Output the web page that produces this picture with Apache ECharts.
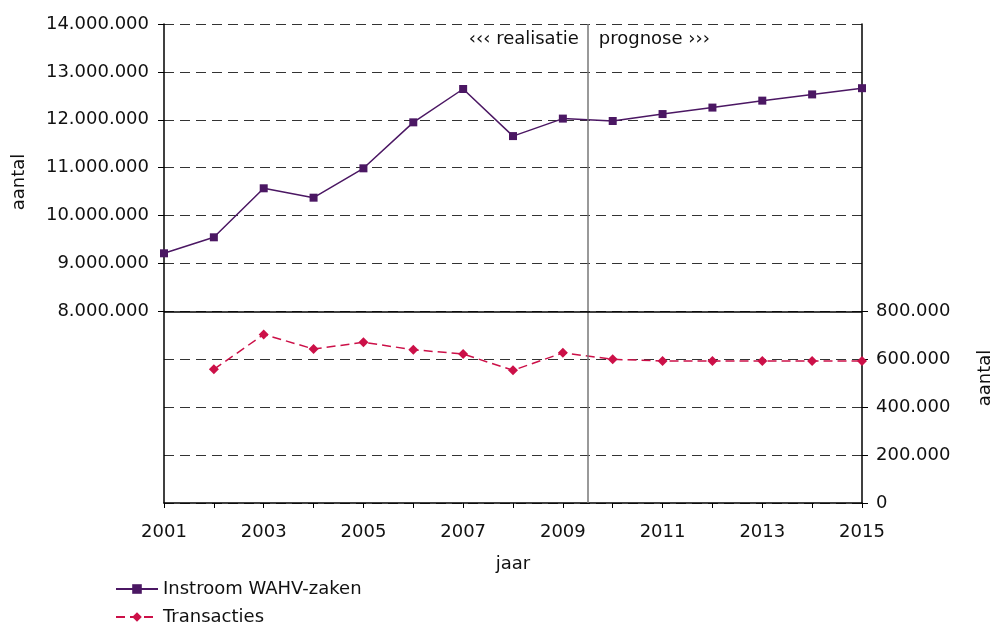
<!DOCTYPE html>
<html>
<head>
<meta charset="utf-8">
<script src="https://cdn.jsdelivr.net/npm/echarts@6/dist/echarts.min.js"></script>
<style>html,body{margin:0;padding:0;background:#fff}#c{width:993px;height:623px}</style>
</head>
<body>
<div id="c"></div>
<script>
const years = [2001,2002,2003,2004,2005,2006,2007,2008,2009,2010,2011,2012,2013,2014,2015];
const instroom = [9213000,9547000,10570000,10374000,10987000,11947000,12643000,11660000,12025000,11975000,12120000,12255000,12400000,12530000,12660000];
const transacties = [null,558000,704000,643000,671000,640000,622000,554000,627000,600000,593000,593000,593000,593000,593000];
const leftTicks = [8000000,9000000,10000000,11000000,12000000,13000000,14000000];
const rightTicks = [0,200000,400000,600000,800000];
const xLabels = [2001,2003,2005,2007,2009,2011,2013,2015];
const splitYear = 2009.5;
const panelDivider = 8000000;

const FONT = "'DejaVu Sans', Verdana, sans-serif";
const FS = 18;
const fmt = v => String(Math.round(v)).replace(/\B(?=(\d{3})+(?!\d))/g, '.');
const C1 = '#4b1763', C2 = '#cc1048';
const legendText = {fontFamily:FONT,fontSize:FS,color:'#111',lineHeight:16};

const chart = echarts.init(document.getElementById('c'), null, {renderer:'canvas'});
chart.setOption({
  animation:false,
  backgroundColor:'#fff',
  textStyle:{fontFamily:FONT},
  grid:{left:164,right:131,top:24,bottom:120,containLabel:false},
  legend:[
    {left:115, top:580, padding:0, itemWidth:42, itemHeight:12, textStyle:legendText, data:['Instroom WAHV-zaken']},
    {left:115, top:608, padding:0, itemWidth:42, itemHeight:12, textStyle:legendText, data:['Transacties']}
  ],
  xAxis:{
    type:'value', min:2001, max:2015, interval:1,
    name:'jaar', nameLocation:'middle', nameGap:52,
    nameTextStyle:{fontFamily:FONT,fontSize:FS,color:'#111'},
    axisLine:{show:true,lineStyle:{color:'#000',width:1.5}},
    axisTick:{show:true,length:5,lineStyle:{color:'#000'}},
    axisLabel:{customValues:xLabels, formatter:v=>String(v), fontFamily:FONT,fontSize:FS,color:'#111',margin:20},
    splitLine:{show:false}
  },
  yAxis:[{
    type:'value', min:4000000, max:14000000, interval:1000000, position:'left',
    axisLine:{show:true,lineStyle:{color:'#000',width:1.5}},
    axisTick:{show:true,customValues:leftTicks,length:6,inside:false,lineStyle:{color:'#000'}},
    axisLabel:{customValues:leftTicks, formatter:fmt, fontFamily:FONT,fontSize:FS,color:'#111',margin:15},
    splitLine:{show:true,lineStyle:{color:'#333',type:[10,6],width:1}}
  },{
    type:'value', min:0, max:2000000, interval:200000, position:'right',
    axisLine:{show:true,lineStyle:{color:'#000',width:1.5}},
    axisTick:{show:true,customValues:rightTicks,length:6,lineStyle:{color:'#000'}},
    axisLabel:{customValues:rightTicks, formatter:fmt, fontFamily:FONT,fontSize:FS,color:'#111',margin:14},
    splitLine:{show:true,lineStyle:{color:'#333',type:[10,6],width:1}}
  }],
  series:[{
    name:'Instroom WAHV-zaken', type:'line', yAxisIndex:0,
    data:years.map((y,i)=>[y,instroom[i]]),
    symbol:'rect', symbolSize:8,
    itemStyle:{color:C1},
    lineStyle:{color:C1,width:1.5},
    markLine:{
      silent:true, symbol:['none','none'], label:{show:false},
      data:[
        {xAxis:splitYear, lineStyle:{color:'#777',width:1.5,type:'solid'}},
        {yAxis:panelDivider, lineStyle:{color:'#000',width:1.5,type:'solid'}}
      ]
    }
  },{
    name:'Transacties', type:'line', yAxisIndex:1,
    data:years.map((y,i)=>[y,transacties[i]]),
    symbol:'diamond', symbolSize:10,
    itemStyle:{color:C2},
    lineStyle:{color:C2,width:1.5,type:[9,5]}
  }]
});

const p = chart.convertToPixel({xAxisIndex:0,yAxisIndex:0},[splitYear,13670000]);
chart.setOption({
  graphic:[
    {type:'text', x:p[0]-9, y:p[1], style:{text:'‹‹‹ realisatie', font:FS+'px '+FONT, fill:'#111', textAlign:'right', textVerticalAlign:'middle'}},
    {type:'text', x:p[0]+11, y:p[1], style:{text:'prognose ›››', font:FS+'px '+FONT, fill:'#111', textAlign:'left', textVerticalAlign:'middle'}},
    {type:'text', x:19, y:182, rotation:Math.PI/2, style:{text:'aantal', font:FS+'px '+FONT, fill:'#111', textAlign:'center', textVerticalAlign:'middle'}},
    {type:'text', x:985, y:378, rotation:Math.PI/2, style:{text:'aantal', font:FS+'px '+FONT, fill:'#111', textAlign:'center', textVerticalAlign:'middle'}}
  ]
});
</script>
</body>
</html>
